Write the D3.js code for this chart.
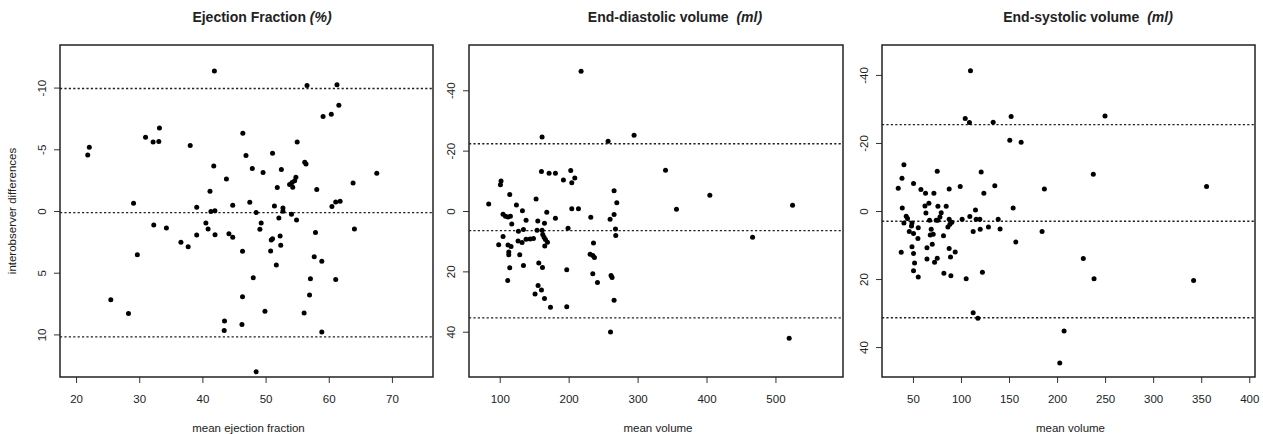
<!DOCTYPE html>
<html>
<head>
<meta charset="utf-8">
<script src="https://cdn.jsdelivr.net/npm/d3@7"></script>
<style>
  body { margin: 0; background: #fff; }
  svg { display: block; font-family: "Liberation Sans", Arial, Helvetica, sans-serif; }
</style>
</head>
<body>
<div id="chart"></div>
<script>
// ejection fraction: mean of two observers vs their difference
const efMean = [41.9, 22.1, 21.85, 31.0, 32.2, 33.1, 33.2, 38.07, 46.4, 46.9, 41.8, 43.8, 41.2, 29.1, 39.1, 44.8,
  47.5, 41.35, 41.98, 32.3, 34.3, 40.55, 40.9, 39.1, 42.0, 44.2, 44.8, 36.6, 37.75, 46.35, 29.7, 25.5, 28.3,
  46.35, 43.5, 43.45, 46.26, 56.56, 61.3, 61.6, 59.1, 60.4, 55.0, 51.1, 56.2, 56.4, 47.9, 49.6, 52.5, 67.6,
  54.8, 54.6, 54.2, 53.8, 54.3, 51.85, 58.1, 63.85, 60.5, 61.1, 61.8, 51.4, 52.75, 52.75, 48.5, 52.1, 54.1,
  54.9, 49.3, 49.1, 51.1, 50.9, 52.3, 52.4, 50.8, 64.06, 57.9, 51.7, 57.7, 58.9, 48.05, 57.1, 61.1, 56.96,
  49.9, 56.1, 58.9, 48.5];
const efDiff = [-11.35, -5.17, -4.54, -5.98, -5.6, -5.63, -6.73, -5.3, -6.3, -4.49, -3.65, -2.6, -1.6, -0.62, -0.3, -0.46,
  -0.7, 0.05, -0.03, 1.13, 1.38, 0.97, 1.46, 1.95, 1.92, 1.84, 2.13, 2.54, 2.89, 3.27, 3.54, 7.19, 8.3,
  6.95, 8.92, 9.68, 9.19, -10.17, -10.22, -8.57, -7.65, -7.84, -5.6, -4.68, -3.95, -3.81, -3.44, -3.11, -3.36, -3.06,
  -2.73, -2.46, -2.3, -2.14, -1.92, -1.9, -1.74, -2.27, -0.36, -0.73, -0.79, -0.41, -0.24, 0.02, 0.13, 0.57, 0.27,
  0.73, 0.97, 1.48, 2.24, 2.35, 2.03, 2.78, 3.24, 1.46, 1.75, 4.38, 3.7, 4.08, 5.4, 5.48, 5.56, 6.81,
  8.13, 8.27, 9.81, 13.03];

// end-diastolic volume
const edvMean = [161.4, 257.2, 294.9, 340.5, 160.5, 171.6, 180.8, 203.0, 192.4, 208.9, 204.5, 101.9, 101.0, 114.5,
  84.0, 152.7, 265.9, 269.8, 265.9, 260.1, 267.9, 268.3, 204.5, 214.2, 232.1, 199.1, 124.2, 132.9, 168.2, 180.8,
  104.8, 108.3, 112.0, 115.5, 117.4, 138.2, 155.2, 164.9, 127.1, 134.4, 161.4, 154.1, 104.8, 98.5, 112, 116.4,
  126.6, 132.4, 138.2, 144.0, 148.9, 162.4, 164.3, 166.3, 169.2, 165.3, 113.1, 113.1, 129.0, 114.5, 134.4, 156.6,
  162.0, 111.6, 155.6, 160.5, 151.2, 164.9, 173.6, 197.2, 197.2, 236.0, 231.1, 235.0, 237.4, 235.0, 241.8, 261.5,
  263.0, 265.9, 260.7, 404.8, 356.4, 524.8, 466.8, 519.9, 218.0];
const edvDiff = [-24.5, -23.1, -25.1, -13.5, -13.1, -12.5, -12.5, -13.45, -10.25, -10.9, -9.38, -9.9, -8.7, -5.5,
  -2.3, -3.97, -6.7, -2.77, 1.2, 2.74, 5.95, 8.1, -0.78, -0.78, 2.08, 5.7, -2.0, -0.12, 0.43, 2.4,
  1.1, 1.75, 1.98, 1.75, 4.3, 3.07, 3.3, 4.07, 6.7, 6.15, 6.4, 6.4, 8.47, 11.2, 11.3, 11.8,
  9.9, 10.45, 9.35, 9.25, 9.1, 7.8, 8.7, 9.45, 10.35, 11.57, 13.55, 14.5, 14.5, 18.8, 18.05, 17.2,
  18.7, 23.0, 24.7, 26.2, 27.5, 29.0, 31.9, 31.7, 19.5, 10.6, 14.3, 14.75, 15.4, 20.8, 23.7, 21.4,
  22.0, 29.6, 40.1, -5.2, -0.56, -1.9, 8.7, 42.2, -46.3];

// end-systolic volume
const esvMean = [109.9, 104.4, 108.8, 133.5, 152.2, 249.9, 150.8, 162.6, 237.7, 355.6, 186.8, 40.6, 75.3, 121.0,
  38.6, 50.6, 34.7, 58.3, 63.1, 71.8, 87.7, 99.2, 123.8, 135.2, 38.9, 43.0, 44.4, 40.6, 49.0, 48.5, 62.5, 66.6,
  76.0, 84.6, 63.5, 79.4, 78.1, 76.0, 67.3, 74.2, 87.7, 90.5, 88.5, 86.4, 101.2, 109.2, 115.1, 115.8, 119.6,
  138.7, 154.3, 55.5, 46.2, 50.6, 55.2, 69.0, 68.0, 71.1, 81.8, 112.7, 120.0, 128.6, 140.7, 184.4, 157.1, 37.8,
  49.0, 50.6, 64.6, 70.1, 64.6, 75.3, 72.5, 87.7, 94.0, 89.1, 51.7, 50.6, 55.5, 82.2, 89.5, 105.4, 122.3, 112.7,
  117.6, 207.3, 227.3, 238.5, 342.1, 202.8];
const esvDiff = [-41.2, -27.2, -26.0, -26.1, -27.8, -27.9, -20.8, -20.2, -10.8, -7.2, -6.5, -13.6, -11.7, -11.5,
  -9.6, -8.05, -6.7, -6.3, -5.2, -5.2, -6.5, -7.2, -5.2, -7.4, -0.9, 1.56, 2.24, 3.5, 3.5, 4.4, -1.5, -2.3,
  -1.4, -1.4, 0.6, 0.5, 1.76, 2.7, 2.7, 2.7, 2.4, 3.3, 3.9, 4.7, 2.4, 1.65, -0.3, 2.4, 2.4,
  2.4, -0.9, 4.9, 6.0, 6.6, 8.1, 5.4, 7.05, 6.85, 7.25, 6.06, 5.4, 4.7, 5.3, 6.06, 9.1, 12.15,
  10.5, 12.5, 10.8, 9.8, 14.1, 13.9, 15.1, 11.0, 12.06, 13.5, 15.3, 17.6, 19.4, 18.3, 19.0, 19.9, 18.0, 29.9,
  31.5, 35.3, 14.0, 19.9, 20.4, 44.7];

// mean difference and limits of agreement (dotted lines)
const efLimits = [-9.93, 0.13, 10.2];
const edvLimits = [-22.3, 6.5, 35.4];
const esvLimits = [-25.4, 3.0, 31.4];

const efXTicks = [20, 30, 40, 50, 60, 70];
const efYTicks = [-10, -5, 0, 5, 10];
const edvXTicks = [100, 200, 300, 400, 500];
const edvYTicks = [-40, -20, 0, 20, 40];
const esvXTicks = [50, 100, 150, 200, 250, 300, 350, 400];
const esvYTicks = [-40, -20, 0, 20, 40];

const W = 1263, H = 434;

const panels = [
  { title: "Ejection Fraction ", unit: "(%)", xlab: "mean ejection fraction",
    x: efMean, y: efDiff, lim: efLimits, xt: efXTicks, yt: efYTicks,
    xdom: [17.46, 76.5], ydom: [-13.45, 13.45], left: 60, right: 433, titleX: 262 },
  { title: "End-diastolic volume  ", unit: "(ml)", xlab: "mean volume",
    x: edvMean, y: edvDiff, lim: edvLimits, xt: edvXTicks, yt: edvYTicks,
    xdom: [55.4, 598], ydom: [-55, 55], left: 469, right: 843, titleX: 675 },
  { title: "End-systolic volume  ", unit: "(ml)", xlab: "mean volume",
    x: esvMean, y: esvDiff, lim: esvLimits, xt: esvXTicks, yt: esvYTicks,
    xdom: [17.8, 406], ydom: [-48.8, 48.8], left: 882, right: 1255, titleX: 1088 }
];
const plotTop = 45, plotBottom = 377;
const fmt = d => String(d);   // plain hyphen minus, as in R

const svg = d3.select("#chart").append("svg")
  .attr("width", W).attr("height", H);

panels.forEach(p => {
  const x = d3.scaleLinear().domain(p.xdom).range([p.left, p.right]);
  const y = d3.scaleLinear().domain(p.ydom).range([plotTop, plotBottom]);
  const g = svg.append("g");

  // limits of agreement
  g.selectAll("line.lim")
    .data(p.lim)
    .enter().append("line")
    .attr("x1", p.left).attr("x2", p.right)
    .attr("y1", d => y(d)).attr("y2", d => y(d))
    .attr("stroke", "#222")
    .attr("stroke-width", 1.4)
    .attr("stroke-dasharray", "2.2,2.2");

  // points
  g.selectAll("circle")
    .data(p.x.map((v, i) => [v, p.y[i]]))
    .enter().append("circle")
    .attr("cx", d => x(d[0]))
    .attr("cy", d => y(d[1]))
    .attr("r", 2.5)
    .attr("fill", "#000");

  // x axis
  const xa = g.append("g")
    .attr("transform", `translate(0,${plotBottom})`)
    .call(d3.axisBottom(x).tickValues(p.xt).tickSize(6).tickPadding(12).tickFormat(fmt));
  xa.select(".domain").remove();
  xa.selectAll("line").attr("stroke", "#333");
  xa.selectAll("text").attr("font-size", 11.5).attr("fill", "#222")
    .attr("font-family", "\"Liberation Sans\", Arial, sans-serif");

  // y axis, labels turned like R's default
  const ya = g.append("g")
    .attr("transform", `translate(${p.left},0)`)
    .call(d3.axisLeft(y).tickValues(p.yt).tickSize(6).tickFormat(fmt));
  ya.select(".domain").remove();
  ya.selectAll("line").attr("stroke", "#333");
  ya.selectAll("text")
    .attr("font-size", 11.5).attr("fill", "#222")
    .attr("font-family", "\"Liberation Sans\", Arial, sans-serif")
    .attr("x", null).attr("dy", null)
    .attr("text-anchor", "middle")
    .attr("transform", "translate(-14,0) rotate(-90)");

  // frame
  g.append("rect")
    .attr("x", p.left).attr("y", plotTop)
    .attr("width", p.right - p.left).attr("height", plotBottom - plotTop)
    .attr("fill", "none")
    .attr("stroke", "#222")
    .attr("stroke-width", 1.5);

  // title
  const t = g.append("text")
    .attr("x", p.titleX)
    .attr("y", 22)
    .attr("text-anchor", "middle")
    .attr("font-size", 14)
    .attr("font-weight", "bold")
    .attr("fill", "#222");
  t.append("tspan").attr("xml:space", "preserve").text(p.title);
  t.append("tspan").attr("font-style", "italic").text(p.unit);

  // x label
  g.append("text")
    .attr("x", (p.left + p.right) / 2 + 2)
    .attr("y", 432)
    .attr("text-anchor", "middle")
    .attr("font-size", 11.5)
    .attr("fill", "#222")
    .text(p.xlab);
});

svg.append("text")
  .attr("transform", `translate(16,${(plotTop + plotBottom) / 2}) rotate(-90)`)
  .attr("text-anchor", "middle")
  .attr("font-size", 11.5)
  .attr("fill", "#222")
  .text("interobserver differences");
</script>
</body>
</html>
